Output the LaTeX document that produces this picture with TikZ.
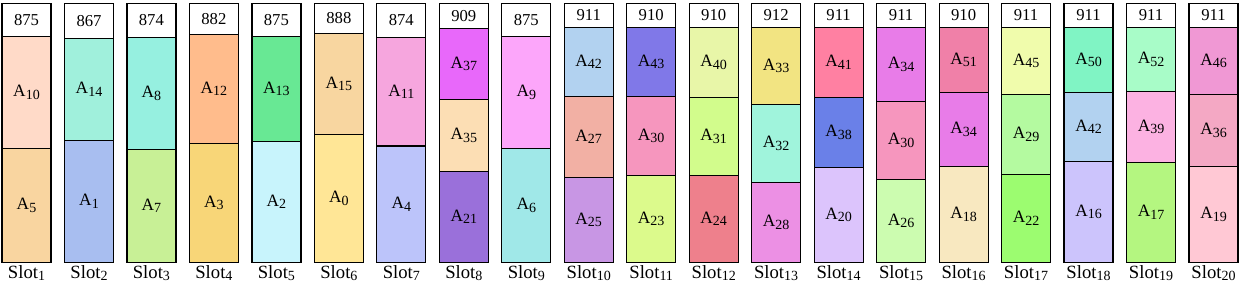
\documentclass[tikz,border=0pt]{standalone}
\usepackage{fontspec}
\setmainfont{Liberation Serif}
\definecolor{cA0}{HTML}{FFE696}
\definecolor{cA1}{HTML}{A8BEF0}
\definecolor{cA2}{HTML}{C8F4FC}
\definecolor{cA3}{HTML}{F8D678}
\definecolor{cA4}{HTML}{BCC4FA}
\definecolor{cA5}{HTML}{F9D5A0}
\definecolor{cA6}{HTML}{A0E8E8}
\definecolor{cA7}{HTML}{C8F096}
\definecolor{cA8}{HTML}{96F0E0}
\definecolor{cA9}{HTML}{FCA6FA}
\definecolor{cA10}{HTML}{FFDAC8}
\definecolor{cA11}{HTML}{F6A6DE}
\definecolor{cA12}{HTML}{FFBC8C}
\definecolor{cA13}{HTML}{68E894}
\definecolor{cA14}{HTML}{A0F0DC}
\definecolor{cA15}{HTML}{F8D6A0}
\definecolor{cA16}{HTML}{CCC4FC}
\definecolor{cA17}{HTML}{B4F680}
\definecolor{cA18}{HTML}{F8E8C0}
\definecolor{cA19}{HTML}{FFC8D4}
\definecolor{cA20}{HTML}{DCC4FC}
\definecolor{cA21}{HTML}{9A70DA}
\definecolor{cA22}{HTML}{9CFC70}
\definecolor{cA23}{HTML}{DCFA8C}
\definecolor{cA24}{HTML}{EE808C}
\definecolor{cA25}{HTML}{C896E4}
\definecolor{cA26}{HTML}{CCFCB0}
\definecolor{cA27}{HTML}{F2B0A4}
\definecolor{cA28}{HTML}{EC90E4}
\definecolor{cA29}{HTML}{B4FAA0}
\definecolor{cA30}{HTML}{F696BE}
\definecolor{cA31}{HTML}{D2FC8C}
\definecolor{cA32}{HTML}{A0F4DC}
\definecolor{cA33}{HTML}{F2E482}
\definecolor{cA34}{HTML}{E87CE8}
\definecolor{cA35}{HTML}{FCDEB4}
\definecolor{cA36}{HTML}{F4A8C4}
\definecolor{cA37}{HTML}{E868FA}
\definecolor{cA38}{HTML}{6A80E8}
\definecolor{cA39}{HTML}{FCB2E2}
\definecolor{cA40}{HTML}{E8F6A8}
\definecolor{cA41}{HTML}{FF80A2}
\definecolor{cA42}{HTML}{B2D2F0}
\definecolor{cA43}{HTML}{8078E8}
\definecolor{cA45}{HTML}{F0FCAC}
\definecolor{cA46}{HTML}{F098D4}
\definecolor{cA50}{HTML}{80F4C4}
\definecolor{cA51}{HTML}{F080A8}
\definecolor{cA52}{HTML}{A8FCC8}
\newcommand\lowsub[1]{\raisebox{-2pt}{\fontsize{10.5}{12}\selectfont #1}}
\newcommand\seg[6]{%
  \filldraw[segbox,fill=#5] (#2,#3) rectangle ({#2+49},#4);
  \node[lab] (#1) at ({#2+24.5},{(#3+#4)/2}) {#6};}
\newcommand\aseg[5]{\seg{#1}{#2}{#3}{#4}{cA#5}{\fontsize{13}{15}\selectfont A\lowsub{#5}}}
\newcommand\slotcol[4]{% name, x, header bottom, value
  \seg{#1h}{#2}{3.3}{#3}{white}{#4}}
\newcommand\slotlabel[3]{%
  \node[slotlab] (#1) at ({#2+24.5},273) {Slot\lowsub{#3}};}
\begin{document}
\begin{tikzpicture}[x=0.75pt,y=-0.75pt,
  segbox/.style={draw=black,line width=0.9pt},
  lab/.style={font=\fontsize{12.5}{14}\selectfont,inner sep=0pt},
  slotlab/.style={font=\fontsize{14}{16}\selectfont,inner sep=0pt}]
\useasboundingbox (0,0) rectangle (1241,285);
% Slot 1
\slotcol{s1}{2}{36.7}{875}
\aseg{s1a}{2}{36.7}{148.3}{10}
\aseg{s1b}{2}{148.3}{262.3}{5}
\slotlabel{l1}{2}{1}
% Slot 2
\slotcol{s2}{64.5}{38.7}{867}
\aseg{s2a}{64.5}{38.7}{140.3}{14}
\aseg{s2b}{64.5}{140.3}{262.3}{1}
\slotlabel{l2}{64.5}{2}
% Slot 3
\slotcol{s3}{126.9}{37.3}{874}
\aseg{s3a}{126.9}{37.3}{149.3}{8}
\aseg{s3b}{126.9}{149.3}{262.3}{7}
\slotlabel{l3}{126.9}{3}
% Slot 4
\slotcol{s4}{189.4}{34.3}{882}
\aseg{s4a}{189.4}{34.3}{143.3}{12}
\aseg{s4b}{189.4}{143.3}{262.3}{3}
\slotlabel{l4}{189.4}{4}
% Slot 5
\slotcol{s5}{251.9}{36.7}{875}
\aseg{s5a}{251.9}{36.7}{141.3}{13}
\aseg{s5b}{251.9}{141.3}{262.3}{2}
\slotlabel{l5}{251.9}{5}
% Slot 6
\slotcol{s6}{314.4}{33.3}{888}
\aseg{s6a}{314.4}{33.3}{134.3}{15}
\aseg{s6b}{314.4}{134.3}{262.3}{0}
\slotlabel{l6}{314.4}{6}
% Slot 7
\slotcol{s7}{376.8}{37.3}{874}
\aseg{s7a}{376.8}{37.3}{146}{11}
\aseg{s7b}{376.8}{146}{262.3}{4}
\slotlabel{l7}{376.8}{7}
% Slot 8
\slotcol{s8}{439.3}{28.3}{909}
\aseg{s8a}{439.3}{28.3}{99.3}{37}
\aseg{s8b}{439.3}{99.3}{171.3}{35}
\aseg{s8c}{439.3}{171.3}{262.3}{21}
\slotlabel{l8}{439.3}{8}
% Slot 9
\slotcol{s9}{501.8}{36.3}{875}
\aseg{s9a}{501.8}{36.3}{148.3}{9}
\aseg{s9b}{501.8}{148.3}{262.3}{6}
\slotlabel{l9}{501.8}{9}
% Slot 10
\slotcol{s10}{564.2}{27.3}{911}
\aseg{s10a}{564.2}{27.3}{96.3}{42}
\aseg{s10b}{564.2}{96.3}{177.3}{27}
\aseg{s10c}{564.2}{177.3}{262.3}{25}
\slotlabel{l10}{564.2}{10}
% Slot 11
\slotcol{s11}{626.7}{27.3}{910}
\aseg{s11a}{626.7}{27.3}{96.3}{43}
\aseg{s11b}{626.7}{96.3}{175.3}{30}
\aseg{s11c}{626.7}{175.3}{262.3}{23}
\slotlabel{l11}{626.7}{11}
% Slot 12
\slotcol{s12}{689.2}{27.3}{910}
\aseg{s12a}{689.2}{27.3}{97.3}{40}
\aseg{s12b}{689.2}{97.3}{175.3}{31}
\aseg{s12c}{689.2}{175.3}{262.3}{24}
\slotlabel{l12}{689.2}{12}
% Slot 13
\slotcol{s13}{751.6}{27.3}{912}
\aseg{s13a}{751.6}{27.3}{104.3}{33}
\aseg{s13b}{751.6}{104.3}{182.3}{32}
\aseg{s13c}{751.6}{182.3}{262.3}{28}
\slotlabel{l13}{751.6}{13}
% Slot 14
\slotcol{s14}{814.1}{27.3}{911}
\aseg{s14a}{814.1}{27.3}{97.3}{41}
\aseg{s14b}{814.1}{97.3}{167.3}{38}
\aseg{s14c}{814.1}{167.3}{262.3}{20}
\slotlabel{l14}{814.1}{14}
% Slot 15
\slotcol{s15}{876.6}{27.3}{911}
\aseg{s15a}{876.6}{27.3}{101.3}{34}
\aseg{s15b}{876.6}{101.3}{179.3}{30}
\aseg{s15c}{876.6}{179.3}{262.3}{26}
\slotlabel{l15}{876.6}{15}
% Slot 16
\slotcol{s16}{939.1}{27.3}{910}
\aseg{s16a}{939.1}{27.3}{92.3}{51}
\aseg{s16b}{939.1}{92.3}{166.3}{34}
\aseg{s16c}{939.1}{166.3}{262.3}{18}
\slotlabel{l16}{939.1}{16}
% Slot 17
\slotcol{s17}{1001.5}{27.3}{911}
\aseg{s17a}{1001.5}{27.3}{94.3}{45}
\aseg{s17b}{1001.5}{94.3}{174.3}{29}
\aseg{s17c}{1001.5}{174.3}{262.3}{22}
\slotlabel{l17}{1001.5}{17}
% Slot 18
\slotcol{s18}{1064}{27.3}{911}
\aseg{s18a}{1064}{27.3}{92.3}{50}
\aseg{s18b}{1064}{92.3}{161.3}{42}
\aseg{s18c}{1064}{161.3}{262.3}{16}
\slotlabel{l18}{1064}{18}
% Slot 19
\slotcol{s19}{1126.5}{27.3}{911}
\aseg{s19a}{1126.5}{27.3}{91.3}{52}
\aseg{s19b}{1126.5}{91.3}{162.3}{39}
\aseg{s19c}{1126.5}{162.3}{262.3}{17}
\slotlabel{l19}{1126.5}{19}
% Slot 20
\slotcol{s20}{1189}{27.3}{911}
\aseg{s20a}{1189}{27.3}{94.3}{46}
\aseg{s20b}{1189}{94.3}{166.3}{36}
\aseg{s20c}{1189}{166.3}{262.3}{19}
\slotlabel{l20}{1189}{20}
\end{tikzpicture}
\end{document}
